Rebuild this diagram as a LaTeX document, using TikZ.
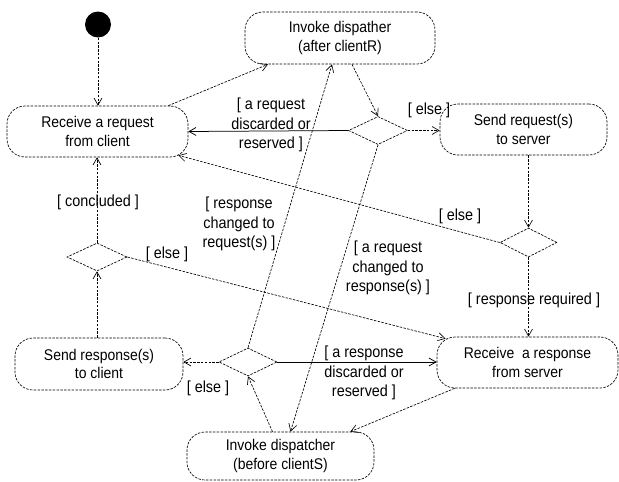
\documentclass[tikz,border=0pt]{standalone}
\usepackage{fontspec}
\setmainfont{Liberation Sans}[FakeStretch=0.9]
\usetikzlibrary{shapes.geometric,arrows.meta,calc}
\begin{document}
\begin{tikzpicture}[x=1pt,y=-1pt,
  ln/.style={line width=0.65pt, dash pattern=on 2.5pt off 1.3pt},
  box/.style={draw, ln, rectangle, rounded corners=18pt, align=center, inner sep=0pt,
              font=\fontsize{15.5}{18.5}\selectfont},
  dec/.style={draw, ln, diamond, inner sep=0pt},
  arr/.style={ln, -{Straight Barb[length=7pt,width=8pt]}},
  sarr/.style={line width=0.75pt, -{Straight Barb[length=7pt,width=8pt]}},
  lbl/.style={align=center, inner sep=0pt, font=\fontsize{16}{19.5}\selectfont}
]
\useasboundingbox (0,0) rectangle (619,482);

% nodes
\node[circle, fill=black, minimum size=26pt, inner sep=0pt] (start) at (98,24.5) {};
\node[box, minimum width=181pt, minimum height=51pt] (rr) at (97.5,131.5) {Receive a request\\from client};
\node[box, minimum width=190pt, minimum height=52pt] (ia) at (340,38) {Invoke dispather\\(after clientR)};
\node[dec, minimum width=59pt, minimum height=28pt] (d1) at (378,130.5) {};
\node[box, minimum width=167pt, minimum height=51pt] (sq) at (523.5,129.5) {Send request(s)\\to server};
\node[dec, minimum width=57pt, minimum height=29pt] (d2) at (528.5,242.5) {};
\node[box, minimum width=181pt, minimum height=51pt] (rs) at (527.5,362.5) {Receive\ \ a response\\from server};
\node[dec, minimum width=60pt, minimum height=28pt] (d3) at (97,257) {};
\node[box, minimum width=168pt, minimum height=52pt] (sr) at (99,364) {Send response(s)\\to client};
\node[dec, minimum width=58pt, minimum height=28pt] (d4) at (248,362) {};
\node[box, minimum width=187pt, minimum height=48pt] (ib) at (280.5,456) {Invoke dispatcher\\(before clientS)};

% connectors
\draw[arr] (start) -- (start |- rr.north);
\draw[arr] ($(rr.north east)+(-20,0)$) -- ($(ia.south)+(-72,0)$);
\draw[arr] ($(ia.south)+(12,0)$) -- (d1.north);
\draw[sarr] (d1.west) -- (rr.east);
\draw[arr] (d1.east) -- (d1.east -| sq.west);
\draw[arr] (d2.north |- sq.south) -- (d2.north);
\draw[arr] (d2.west) -- ($(rr.south east)+(-10,-2)$);
\draw[arr] (d2.south) -- (d2.south |- rs.north);
\draw[arr] (d4.west) -- (d4.west -| sr.east);
\draw[sarr] (d4.east) -- (d4.east -| rs.west);
\draw[arr] ($(rs.south west)+(18,0)$) -- ($(ib.north east)+(-24,0)$);
\draw[arr] ($(ib.north)+(-8,0)$) -- (d4.south);
\draw[arr] (d1.south) -- ($(ib.north)+(10,0)$);
\draw[arr] (d4.north) -- ($(ia.south)+(-8,0)$);
\draw[arr] (d3.south |- sr.north) -- (d3.south);
\draw[arr] (d3.north) -- (d3.north |- rr.south);
\draw[arr] (d3.east) -- ($(rs.north west)+(9,2)$);

% labels
\node[lbl] (l1) at (271,125) {[ a request\\discarded or\\reserved ]};
\node[lbl] (l2) at (429,110) {[ else ]};
\node[lbl] (l3) at (460,216) {[ else ]};
\node[lbl] (l4) at (534,300) {[ response required ]};
\node[lbl] (l5) at (208,388) {[ else ]};
\node[lbl] (l6) at (364,373) {[ a response\\discarded or\\reserved ]};
\node[lbl] (l7) at (388,268) {[ a request\\changed to\\response(s) ]};
\node[lbl] (l8) at (239,224) {[ response\\changed to\\request(s) ]};
\node[lbl] (l9) at (98,202) {[ concluded ]};
\node[lbl] (l10) at (167,254) {[ else ]};
\end{tikzpicture}
\end{document}
